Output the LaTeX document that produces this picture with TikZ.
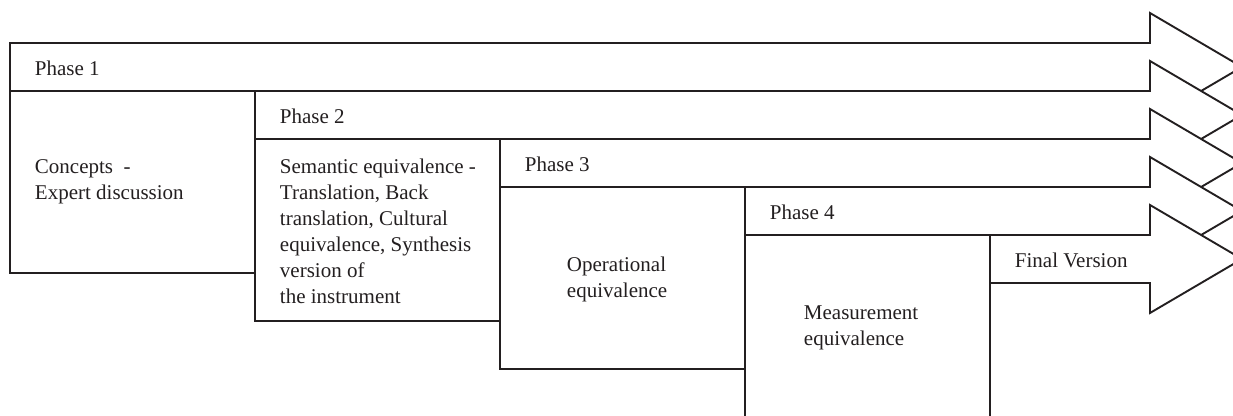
\documentclass[tikz,border=0pt]{standalone}
\usepackage{fontspec}
\setmainfont{Liberation Serif}
\usetikzlibrary{positioning}
\definecolor{inkline}{HTML}{231F20}

\begin{document}
\begin{tikzpicture}[x=0.5pt, y=-0.5pt, line width=0.95pt,
    phasearrow/.style={draw=inkline, fill=white, line join=miter},
    phasebox/.style={draw=inkline},
    lbl/.style={right, inner sep=0pt, align=left, text=inkline, font=\fontsize{10.5}{13}\selectfont}]
    \path[use as bounding box, clip] (0,0) rectangle (1233,416);
    % each phase: a long arrow, then the box under it (later arrows lie on top)
    \foreach \i/\t in {0/Phase 1,1/Phase 2,2/Phase 3,3/Phase 4,4/Final Version} {
        \pgfmathsetmacro\xa{10+245*\i}
        \pgfmathsetmacro\ya{43+48*\i}
        \draw [phasearrow] (\xa,\ya) -- (1150,\ya) -- (1150,\ya-30) -- (1242,\ya+24) -- (1150,\ya+78) -- (1150,\ya+48) -- (\xa,\ya+48) -- cycle;
        \node[lbl] (ph\i) at (\xa+24,\ya+25) {\t};
        \ifnum\i<4 \draw [phasebox] (\xa,\ya+48) rectangle ++(245,182); \fi
    }
    \node[lbl] (concepts) at (34,182) {Concepts~ -\\Expert discussion};
    \node[lbl] (semantic) at (279,231) {Semantic equivalence -\\Translation, Back\\translation, Cultural\\equivalence, Synthesis\\version of\\the instrument};
    \node[lbl] (operational) at (566,279) {Operational\\equivalence};
    \node[lbl] (measurement) at (803,328) {Measurement\\equivalence};
\end{tikzpicture}
\end{document}
